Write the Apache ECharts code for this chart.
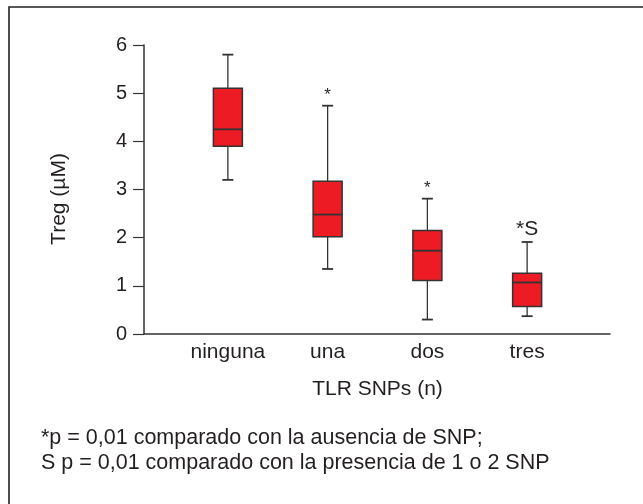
<!DOCTYPE html>
<html>
<head>
<meta charset="utf-8">
<script src="https://cdn.jsdelivr.net/npm/echarts@6/dist/echarts.min.js"></script>
<style>
html,body{margin:0;padding:0;background:#fff;}
#c{width:643px;height:504px;}
</style>
</head>
<body>
<div id="c"></div>
<script>
const categories = ['ninguna', 'una', 'dos', 'tres'];
const whiskerLow = [3.2, 1.35, 0.3, 0.37];
const q1 = [3.9, 2.02, 1.11, 0.57];
const median = [4.25, 2.48, 1.73, 1.07];
const q3 = [5.1, 3.17, 2.15, 1.26];
const whiskerHigh = [5.8, 4.74, 2.81, 1.91];
const marks = ['', '*', '*', '*S'];
const yTicks = [0, 1, 2, 3, 4, 5, 6];
const yTitle = 'Treg (µM)';
const xTitle = 'TLR SNPs (n)';
const footnotes = [
  '*p = 0,01 comparado con la ausencia de SNP;',
  'S p = 0,01 comparado con la presencia de 1 o 2 SNP'
];

const FONT = 'Liberation Sans, Arial, Helvetica, sans-serif';
const TXT = '#231f20';
const LINE = '#333333';

const data = categories.map((c, i) => [i, whiskerLow[i], q1[i], median[i], q3[i], whiskerHigh[i]]);

const chart = echarts.init(document.getElementById('c'), null, {renderer: 'canvas'});
chart.setOption({
  animation: false,
  backgroundColor: '#fff',
  textStyle: {fontFamily: FONT},
  grid: [
    {left: 144, right: 33, top: 45, bottom: 170},
    {left: 178, width: 399, top: 45, bottom: 170}
  ],
  xAxis: [
    {
      gridIndex: 0, type: 'value', min: 0, max: 1,
      axisLine: {show: true, lineStyle: {color: LINE, width: 1.5}},
      axisTick: {show: false}, axisLabel: {show: false}, splitLine: {show: false}
    },
    {
      gridIndex: 1, type: 'category', data: categories,
      axisLine: {show: false}, axisTick: {show: false},
      axisLabel: {color: TXT, fontSize: 21, margin: 8, fontFamily: FONT},
      name: xTitle, nameLocation: 'middle', nameGap: 45,
      nameTextStyle: {color: TXT, fontSize: 21, fontFamily: FONT}
    }
  ],
  yAxis: [
    {
      gridIndex: 0, type: 'value', min: yTicks[0], max: yTicks[yTicks.length - 1], interval: 1,
      axisLine: {show: true, lineStyle: {color: LINE, width: 1.5}},
      axisTick: {show: true, length: 11, lineStyle: {color: LINE, width: 1.2}},
      axisLabel: {color: TXT, fontSize: 20, margin: 17, fontFamily: FONT},
      splitLine: {show: false}
    },
    {
      gridIndex: 1, type: 'value', min: 0, max: 6, show: false
    }
  ],
  series: [{
    type: 'custom',
    xAxisIndex: 1, yAxisIndex: 1,
    data: data,
    renderItem: function (params, api) {
      const i = api.value(0);
      const lo = api.coord([i, api.value(1)]);
      const b1 = api.coord([i, api.value(2)]);
      const md = api.coord([i, api.value(3)]);
      const b3 = api.coord([i, api.value(4)]);
      const hi = api.coord([i, api.value(5)]);
      const cx = lo[0];
      const hw = 14.5, cw = 5.5;
      const ls = {stroke: LINE, lineWidth: 1.3};
      const children = [
        {type: 'line', shape: {x1: cx, y1: hi[1], x2: cx, y2: b3[1]}, style: ls},
        {type: 'line', shape: {x1: cx, y1: b1[1], x2: cx, y2: lo[1]}, style: ls},
        {type: 'line', shape: {x1: cx - cw, y1: hi[1], x2: cx + cw, y2: hi[1]}, style: {stroke: LINE, lineWidth: 1.8}},
        {type: 'line', shape: {x1: cx - cw, y1: lo[1], x2: cx + cw, y2: lo[1]}, style: {stroke: LINE, lineWidth: 1.8}},
        {type: 'rect', shape: {x: cx - hw, y: b3[1], width: hw * 2, height: b1[1] - b3[1]},
          style: {fill: '#ed1c24', stroke: LINE, lineWidth: 1.5}},
        {type: 'line', shape: {x1: cx - hw, y1: md[1], x2: cx + hw, y2: md[1]}, style: {stroke: LINE, lineWidth: 1.8}}
      ];
      const m = marks[params.dataIndex];
      if (m) {
        children.push({type: 'text', x: cx, y: hi[1] - 2,
          style: {text: m, fill: TXT, fontSize: m.length > 1 ? 21 : 17, fontFamily: FONT,
            align: 'center', verticalAlign: 'bottom'}});
      }
      return {type: 'group', children: children};
    }
  }],
  graphic: [
    {type: 'rect', shape: {x: 9, y: 7, width: 700, height: 600},
      style: {fill: 'none', stroke: '#222', lineWidth: 1.6}, silent: true},
    {type: 'text', x: 59, y: 199, rotation: Math.PI / 2,
      style: {text: yTitle, fill: TXT, fontSize: 21, fontFamily: FONT, align: 'center', verticalAlign: 'middle'}},
    {type: 'text', left: 41, top: 426,
      style: {text: footnotes.join('\n'), fill: TXT, fontSize: 21.5, lineHeight: 25, fontFamily: FONT}}
  ]
});
</script>
</body>
</html>
